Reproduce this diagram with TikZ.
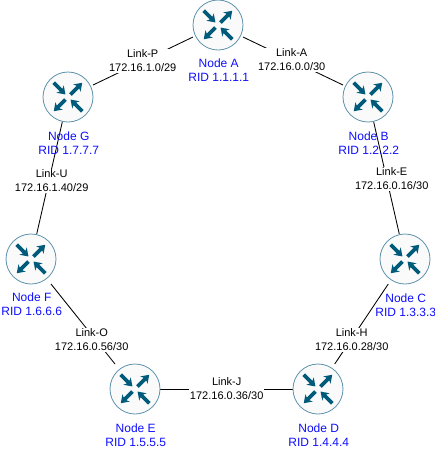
\documentclass[tikz,border=0pt]{standalone}
\usepackage{fontspec}
\setmainfont{Liberation Sans}
\definecolor{routerline}{HTML}{5E93AD}
\definecolor{routerfill}{HTML}{FAFAFA}
\definecolor{routerarrow}{HTML}{005A7A}
\definecolor{nodeblue}{HTML}{0F0FFF}
\tikzset{
  x=1pt,y=-1pt,
  routerbox/.style={rectangle,draw=none,minimum size=50pt,inner sep=0pt,outer sep=0pt},
  routerdisc/.style={circle,draw=routerline,fill=routerfill,line width=0.8pt,minimum size=50pt,inner sep=0pt},
  arrowglyph/.style={fill=routerarrow,draw=none},
  nodelabel/.style={align=center,text=nodeblue,font=\fontsize{12}{14}\selectfont,inner sep=0pt},
  linklabel/.style={align=center,text=black,fill=white,font=\fontsize{11}{14}\selectfont,inner sep=1pt},
  link/.style={draw=black,line width=0.85pt},
  pics/routerglyph/.style={code={
    \node[routerdisc] {};
    \foreach \r/\ox/\oy in {-45/-14.3/-14.3,45/2.5/-2.5,225/-2.5/2.5,135/14.3/14.3}{
      \begin{scope}[shift={(\ox,\oy)},rotate=\r]
        \fill[arrowglyph] (0,-1.9) -- (10.5,-1.9) -- (9,-5.2) -- (16.6,0) -- (9,5.2) -- (10.5,1.9) -- (0,1.9) -- cycle;
      \end{scope}
    }
  }}
}
\begin{document}
\begin{tikzpicture}
\useasboundingbox (0,0) rectangle (435,451);
\fill[white] (0,0) rectangle (435,451);
% routers
\node[routerbox] (A) at (218,25) {};
\node[routerbox] (B) at (368,97) {};
\node[routerbox] (C) at (405,259) {};
\node[routerbox] (D) at (318,389) {};
\node[routerbox] (E) at (135,389) {};
\node[routerbox] (F) at (31,259) {};
\node[routerbox] (G) at (68,97) {};
% links
\path[link] (A) -- (G);
\path[link] (A) -- (B);
\path[link] (B) -- (C);
\path[link] (C) -- (D);
\path[link] (D) -- (E);
\path[link] (E) -- (F);
\path[link] (F) -- (G);
% discs and glyphs
\foreach \n in {A,B,C,D,E,F,G}{\pic at (\n) {routerglyph};}
% link labels
\node[linklabel] (lp) at (142.7,61) {Link-P\\172.16.1.0/29};
\node[linklabel] (la) at (291.7,60) {Link-A\\172.16.0.0/30};
\node[linklabel] (lu) at (51.7,181) {Link-U\\172.16.1.40/29};
\node[linklabel] (le) at (391.7,179) {Link-E\\172.16.0.16/30};
\node[linklabel] (lo) at (91.7,340) {Link-O\\172.16.0.56/30};
\node[linklabel] (lh) at (351.7,340) {Link-H\\172.16.0.28/30};
\node[linklabel] (lj) at (226.7,389) {Link-J\\172.16.0.36/30};
% node labels
\node[nodelabel] (ta) at (218.7,70) {Node A\\RID 1.1.1.1};
\node[nodelabel] (tb) at (368.7,143) {Node B\\RID 1.2.2.2};
\node[nodelabel] (tc) at (405.7,305) {Node C\\RID 1.3.3.3};
\node[nodelabel] (td) at (318.7,435) {Node D\\RID 1.4.4.4};
\node[nodelabel] (te) at (135.7,435) {Node E\\RID 1.5.5.5};
\node[nodelabel] (tf) at (31.7,304) {Node F\\RID 1.6.6.6};
\node[nodelabel] (tg) at (68.7,143) {Node G\\RID 1.7.7.7};
\end{tikzpicture}
\end{document}
